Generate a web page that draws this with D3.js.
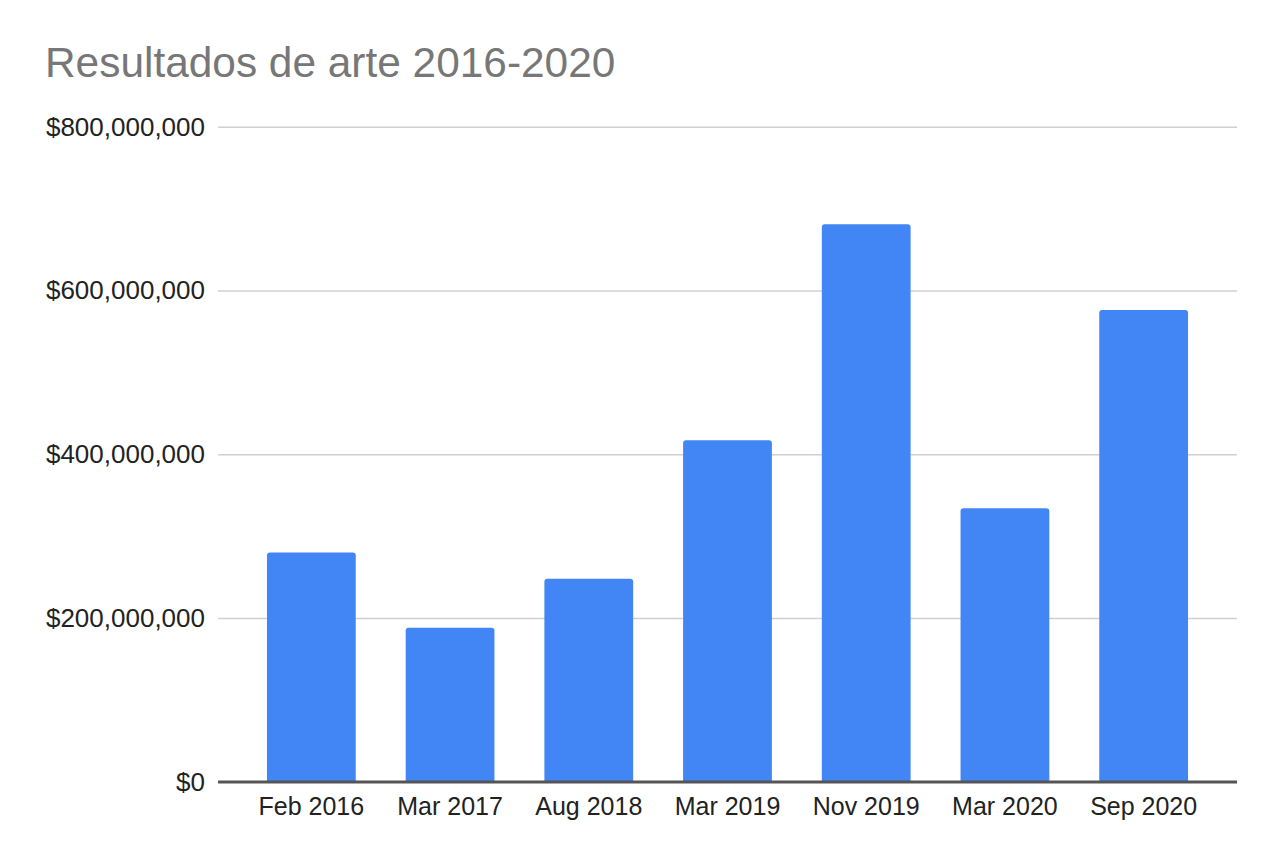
<!DOCTYPE html>
<html>
<head>
<meta charset="utf-8">
<script src="https://cdn.jsdelivr.net/npm/d3@7"></script>
<style>
  body { margin: 0; background: #fff; }
  svg { display: block; font-family: "Liberation Sans", Arial, sans-serif; }
</style>
</head>
<body>
<svg id="chart" width="1280" height="864"></svg>
<script>
// values (USD)
var categories = ['Feb 2016', 'Mar 2017', 'Aug 2018', 'Mar 2019', 'Nov 2019', 'Mar 2020', 'Sep 2020'];
var values = [280000000, 188000000, 248000000, 417000000, 681000000, 334000000, 576000000];
var yTicks = [0, 200000000, 400000000, 600000000, 800000000];
var title = 'Resultados de arte 2016-2020';

var svg = d3.select('#chart');
var plotLeft = 218, plotRight = 1237, plotTop = 126.7, plotBottom = 781.7;

var x = d3.scaleBand()
  .domain(categories)
  .range([plotLeft, plotRight])
  .paddingInner(0.36)
  .paddingOuter(0.353);

var y = d3.scaleLinear()
  .domain([0, 800000000])
  .range([plotBottom, plotTop]);

var money = function(v) { return '$' + d3.format(',')(v); };

svg.append('text')
  .attr('x', 45)
  .attr('y', 77)
  .attr('font-size', 42.4)
  .attr('fill', '#777')
  .text(title);

// gridlines + y labels
var yAxis = svg.append('g')
  .attr('transform', 'translate(' + plotLeft + ',0)')
  .call(d3.axisLeft(y).tickValues(yTicks).tickFormat(money).tickSize(-(plotRight - plotLeft)).tickPadding(13));
yAxis.select('.domain').remove();
yAxis.selectAll('.tick line')
  .attr('stroke', function(d) { return d === 0 ? '#555' : '#d0d0d0'; })
  .attr('stroke-width', function(d) { return d === 0 ? 2.5 : 1.6; });
yAxis.selectAll('.tick text')
  .attr('font-size', 26)
  .attr('fill', '#222')
  .attr('font-family', '"Liberation Sans", Arial, sans-serif');

// bars with rounded tops
function barPath(d, i) {
  var x0 = x(categories[i]), w = x.bandwidth();
  var y0 = y(d), y1 = y(0), r = 3;
  return 'M' + x0 + ',' + y1 +
    'V' + (y0 + r) + 'Q' + x0 + ',' + y0 + ' ' + (x0 + r) + ',' + y0 +
    'H' + (x0 + w - r) + 'Q' + (x0 + w) + ',' + y0 + ' ' + (x0 + w) + ',' + (y0 + r) +
    'V' + y1 + 'Z';
}
svg.append('g')
  .selectAll('path')
  .data(values)
  .join('path')
  .attr('d', barPath)
  .attr('fill', '#4285f4');

// redraw baseline on top of bars
svg.append('line')
  .attr('x1', plotLeft).attr('x2', plotRight)
  .attr('y1', y(0)).attr('y2', y(0))
  .attr('stroke', '#555').attr('stroke-width', 2.5);

var xAxis = svg.append('g')
  .attr('transform', 'translate(0,' + plotBottom + ')')
  .call(d3.axisBottom(x).tickSize(0).tickPadding(16));
xAxis.select('.domain').remove();
xAxis.selectAll('.tick text')
  .attr('font-size', 25)
  .attr('fill', '#222')
  .attr('font-family', '"Liberation Sans", Arial, sans-serif');
</script>
</body>
</html>
